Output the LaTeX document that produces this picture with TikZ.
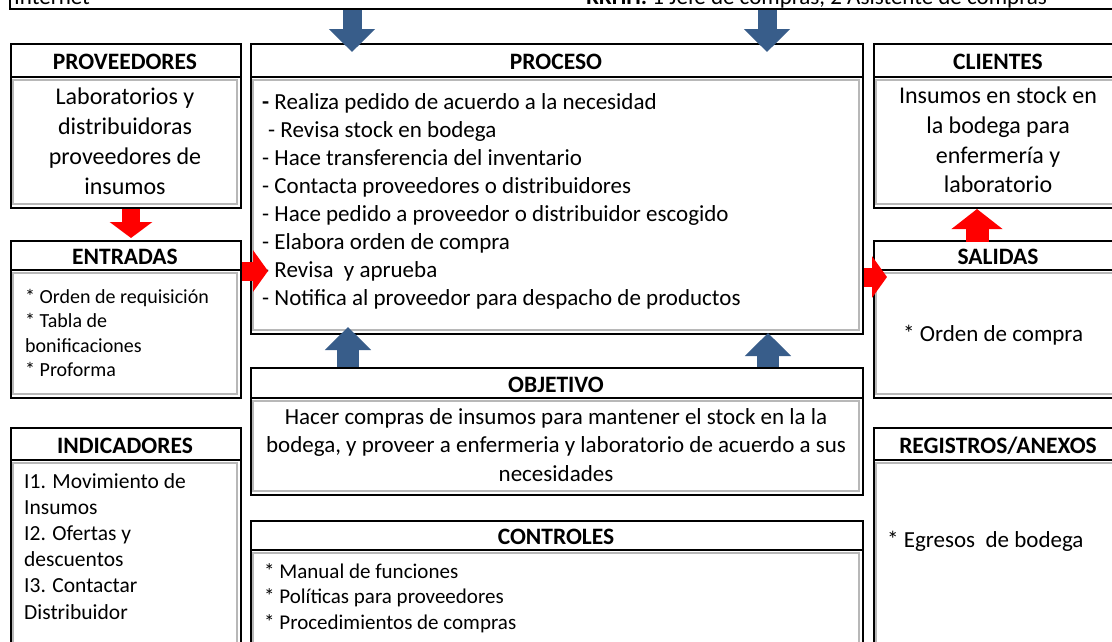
\documentclass[tikz,border=0pt]{standalone}
\usepackage{fontspec}
\setmainfont{Carlito}
\usetikzlibrary{arrows.meta,calc,positioning}
\definecolor{azul}{RGB}{56,93,138}
\definecolor{rojo}{RGB}{255,0,0}

\begin{document}
\begin{tikzpicture}[x=1pt, y=-1pt,
  marco/.style={draw=black, line width=2pt, inner sep=0pt},
  interior/.style={draw=black!28, line width=1.3pt},
  titulo/.style={font=\fontsize{23.5}{28}\selectfont\bfseries, inner sep=0pt},
  cuerpo/.style={align=left, inner sep=0pt},
  flechaazul/.style={azul, line width=19pt, -{Triangle[width=45pt,length=23pt]}},
  flecharoja/.style={rojo, line width=19pt, -{Triangle[width=41pt,length=15pt]}}]

\useasboundingbox (0,0) rectangle (1112,641);
\fill[white] (0,0) rectangle (1112,641);
\clip (0,0) rectangle (1112,641);

% Recuadro superior (cortado)
\node[marco, anchor=south west, minimum width=1130pt, minimum height=60pt] (sup) at (9,10) {};
\node[anchor=base west, inner sep=0pt, font=\fontsize{23}{28}\selectfont] (sup-izq) at (14,4) {Internet};
\node[anchor=base east, inner sep=0pt, font=\fontsize{23}{28}\selectfont] (sup-der) at (1047,4) {\textbf{RRHH:} 1 Jefe de compras, 2 Asistente de compras};

% Recuadros del proceso
\foreach \nom/\xa/\ya/\xb/\yb/\yh/\tit in {
  prov/10/43/240/207/77/PROVEEDORES,
  proc/250/43/862/333/77/PROCESO,
  clie/873/43/1123/207/77/CLIENTES,
  entr/10/240/240/397/270/ENTRADAS,
  sali/873/240/1123/397/270/SALIDAS,
  obje/250/367/862/494/398/OBJETIVO,
  indi/10/427/240/660/460/INDICADORES,
  cont/250/520/862/660/550/CONTROLES,
  regi/873/427/1123/660/460/{REGISTROS/ANEXOS}}{
  \node[marco, anchor=north west, minimum width={(\xb-\xa)*1pt},
        minimum height={(\yb-\ya)*1pt}] (\nom) at (\xa,\ya) {};
  \draw[interior] ({\xa+3},{\yh+3}) rectangle ({\xb-3},{\yb-3});
  \draw[marco] (\xa,\yh) -- (\xb,\yh);
  \node[titulo] (\nom-tit) at ({(\xa+\xb)/2},{(\ya+\yh)/2+2}) {\tit};
}

% Contenidos
\node[cuerpo, align=center, anchor=north, font=\fontsize{24}{30}\selectfont] (prov-txt) at (125,88)
  {Laboratorios y\\distribuidoras\\proveedores de\\insumos};
\node[cuerpo, anchor=north west, font=\fontsize{23}{28}\selectfont] (proc-txt) at (262,93)
  {\textbf{-} Realiza pedido de acuerdo a la necesidad\\
   \hspace{6pt}- Revisa stock en bodega\\
   - Hace transferencia del inventario\\
   - Contacta proveedores o distribuidores\\
   - Hace pedido a proveedor o distribuidor escogido\\
   - Elabora orden de compra\\
   - Revisa \ y aprueba\\
   - Notifica al proveedor para despacho de productos};
\node[cuerpo, align=center, anchor=north, font=\fontsize{24}{29.7}\selectfont] (clie-txt) at (998,87)
  {Insumos en stock en\\la bodega para\\enfermería y\\laboratorio};
\node[cuerpo, anchor=north west, font=\fontsize{20}{24.3}\selectfont] (entr-txt) at (25,289)
  {* Orden de requisición\\* Tabla de\\bonificaciones\\* Proforma};
\node[cuerpo, anchor=west, font=\fontsize{23}{28}\selectfont] (sali-txt) at (903,335)
  {* Orden de compra};
\node[cuerpo, align=center, anchor=north, font=\fontsize{23}{28.5}\selectfont] (obje-txt) at (556,408)
  {Hacer compras de insumos para mantener el stock en la la\\
   bodega, y proveer a enfermeria y laboratorio de acuerdo a sus\\
   necesidades};
\node[cuerpo, anchor=north west, font=\fontsize{21.5}{26.2}\selectfont] (indi-txt) at (24,473)
  {I1. Movimiento de\\Insumos\\I2. Ofertas y\\descuentos\\I3. Contactar\\Distribuidor};
\node[cuerpo, anchor=north west, font=\fontsize{21}{25.5}\selectfont] (cont-txt) at (264,563)
  {* Manual de funciones\\* Políticas para proveedores\\* Procedimientos de compras};
\node[cuerpo, anchor=west, font=\fontsize{23}{28}\selectfont] (regi-txt) at (887,541)
  {* Egresos \ de bodega};

% Flechas
\coordinate (xa1) at (352,0);
\coordinate (xa2) at (767,0);
\coordinate (xa3) at (348,0);
\coordinate (xa4) at (768,0);
\coordinate (xr1) at (131,0);
\coordinate (xr2) at (977,0);
\coordinate (yr1) at (0,271);
\coordinate (yr2) at (0,277);

\draw[flechaazul] (sup.south -| xa1) -- ($(proc.north -| xa1)+(0,9)$);
\draw[flechaazul] (sup.south -| xa2) -- ($(proc.north -| xa2)+(0,9)$);
\draw[flechaazul, line width=22pt] (obje.north -| xa3) -- ($(proc.south -| xa3)+(0,-8)$);
\draw[flechaazul, line width=22pt] (obje.north -| xa4) -- ($(proc.south -| xa4)+(0,-2)$);
\draw[flecharoja, line width=18pt, -{Triangle[width=42pt,length=16pt]}] (prov.south -| xr1) -- ($(entr.north -| xr1)+(0,-2)$);
\draw[flecharoja] (entr.east |- yr1) -- ($(proc.west |- yr1)+(18,0)$);
\draw[flecharoja] (proc.east |- yr2) -- ($(sali.west |- yr2)+(14,0)$);
\draw[flecharoja, line width=23pt, -{Triangle[width=50pt,length=20pt]}] ($(sali.north -| xr2)+(0,2)$) -- (clie.south -| xr2);

\end{tikzpicture}
\end{document}
